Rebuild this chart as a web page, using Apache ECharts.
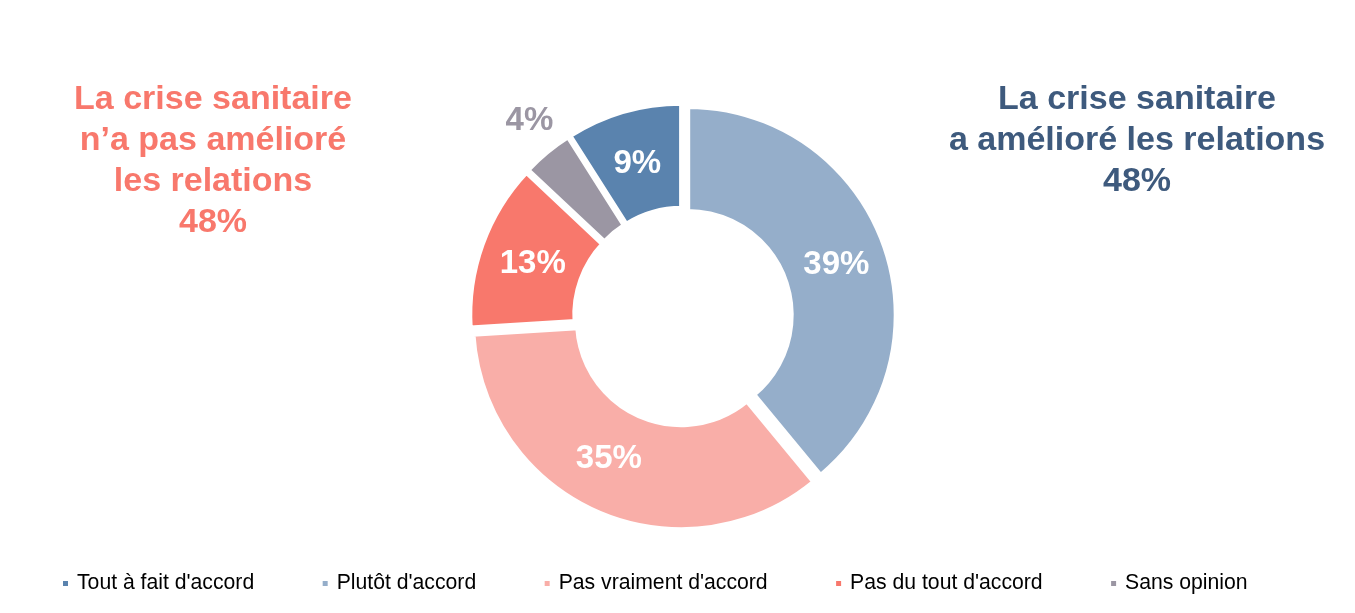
<!DOCTYPE html>
<html>
<head>
<meta charset="utf-8">
<script src="https://cdn.jsdelivr.net/npm/echarts@6/dist/echarts.min.js"></script>
<style>
html,body{margin:0;padding:0;background:#fff;}
#chart{width:1355px;height:613px;}
</style>
</head>
<body>
<div id="chart"></div>
<script>
const categories = ["Tout à fait d'accord", "Plutôt d'accord", "Pas vraiment d'accord", "Pas du tout d'accord", "Sans opinion"];
const values = [9, 39, 35, 13, 4];
const colors = ["#5a83ae", "#95aeca", "#f9aea8", "#f8786c", "#9b96a3"];
const leftText = ["La crise sanitaire", "n’a pas amélioré", "les relations", "48%"];
const rightText = ["La crise sanitaire", "a amélioré les relations", "48%"];

const FONT = '"Liberation Sans", Arial, sans-serif';

// small label nudges (style only), index -> [dx, dy]
const labelNudges = [[0, 5], [-1, 4], [-9, -8], [4, 3], [-49, -69]];
const outsideLabelIndex = 4;

const data = categories.map((name, i) => ({
  name: name,
  value: values[i],
  selected: true,
  itemStyle: { color: colors[i] }
}));

const chart = echarts.init(document.getElementById('chart'), null, { renderer: 'canvas' });

chart.setOption({
  animation: false,
  backgroundColor: '#ffffff',
  legend: {
    data: categories,
    left: 61,
    top: 573,
    padding: 0,
    icon: 'rect',
    itemWidth: 7,
    itemHeight: 7,
    itemGap: 66.5,
    selectedMode: false,
    textStyle: {
      fontFamily: FONT,
      fontSize: 21.2,
      color: '#000000',
      padding: [0, 0, 0, 3]
    }
  },
  graphic: [
    {
      type: 'text',
      x: 213,
      y: 79,
      style: {
        text: leftText.join('\n'),
        fill: '#f8786c',
        font: 'bold 34px ' + FONT,
        textAlign: 'center',
        textVerticalAlign: 'top',
        lineHeight: 41
      }
    },
    {
      type: 'text',
      x: 1137,
      y: 79,
      style: {
        text: rightText.join('\n'),
        fill: '#3e5a7d',
        font: 'bold 34px ' + FONT,
        textAlign: 'center',
        textVerticalAlign: 'top',
        lineHeight: 41
      }
    }
  ],
  series: [
    {
      type: 'pie',
      center: [683, 316.6],
      radius: [103.5, 208.5],
      startAngle: 122.4,
      clockwise: true,
      selectedMode: 'multiple',
      selectedOffset: 5,
      avoidLabelOverlap: false,
      itemStyle: {
        borderColor: '#ffffff',
        borderWidth: 5
      },
      label: {
        show: true,
        position: 'inside',
        formatter: function (p) {
          return p.dataIndex === outsideLabelIndex ? '{g|' + p.value + '%}' : '{w|' + p.value + '%}';
        },
        rich: {
          w: { color: '#ffffff', fontFamily: FONT, fontWeight: 'bold', fontSize: 33 },
          g: { color: '#9b96a3', fontFamily: FONT, fontWeight: 'bold', fontSize: 33 }
        },
        fontFamily: FONT,
        fontWeight: 'bold',
        fontSize: 33
      },
      labelLayout: function (params) {
        const n = labelNudges[params.dataIndex] || [0, 0];
        return { dx: n[0], dy: n[1] };
      },
      labelLine: { show: false },
      emphasis: { disabled: true },
      select: {
        itemStyle: { borderColor: '#ffffff', borderWidth: 5 }
      },
      data: data
    }
  ]
});
</script>
</body>
</html>
